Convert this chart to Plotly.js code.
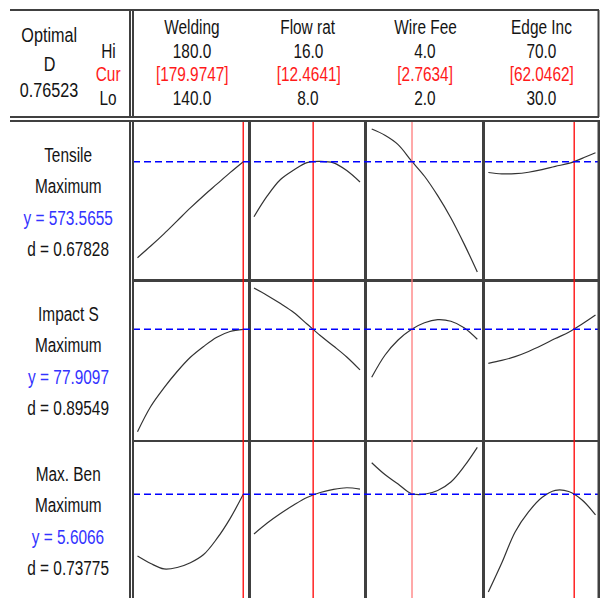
<!DOCTYPE html>
<html><head><meta charset="utf-8">
<script src="https://cdn.plot.ly/plotly-3.0.1.min.js"></script>
<style>html,body{margin:0;padding:0;background:#fff}#chart{width:601px;height:598px}</style>
</head><body><div id="chart"></div>
<script>
// ---- factors ----
const factorNames = ["Welding", "Flow rat", "Wire Fee", "Edge Inc"];
const factorHi = ["180.0", "16.0", "4.0", "70.0"];
const factorCur = ["[179.9747]", "[12.4641]", "[2.7634]", "[62.0462]"];
const factorLo = ["140.0", "8.0", "2.0", "30.0"];
const curValues = [179.9747, 12.4641, 2.7634, 62.0462];

// x samples for each factor
const welding = [140, 145, 150, 155, 160, 165, 170, 175, 180];
const flowRate = [8, 9, 10, 11, 12, 13, 14, 15, 16];
const wireFeed = [2, 2.25, 2.5, 2.75, 3, 3.25, 3.5, 3.75, 4];
const edgeInc = [30, 35, 40, 45, 50, 55, 60, 65, 70];

// ---- responses (relative response level) ----
const responseNames = ["Tensile", "Impact S", "Max. Ben"];
const responseGoal = ["Maximum", "Maximum", "Maximum"];
const responseY = ["y = 573.5655", "y = 77.9097", "y = 5.6066"];
const responseD = ["d = 0.67828", "d = 0.89549", "d = 0.73775"];
const optimalLevel = [76.6, 71.3, 67.85];

const tensileWelding = [9.9, 18.0, 26.5, 35.5, 44.5, 53.0, 61.0, 69.0, 76.6];
const tensileFlow = [38.4, 52.8, 64.2, 70.8, 76.0, 76.8, 75.8, 70.5, 62.5];
const tensileWire = [99.3, 95.0, 88.5, 77.3, 66.5, 53.0, 37.5, 19.5, 0.0];
const tensileEdge = [69.1, 68.2, 68.3, 69.3, 71.1, 73.4, 75.4, 78.9, 82.8];

const impactWelding = [0.2, 17.7, 30.6, 42.0, 51.9, 59.4, 65.8, 69.8, 71.3];
const impactFlow = [100.0, 94.9, 89.2, 83.0, 75.0, 67.0, 59.7, 52.1, 43.1];
const impactWire = [38.0, 53.3, 63.9, 71.2, 75.9, 78.0, 76.9, 72.4, 64.4];
const impactEdge = [47.7, 49.7, 52.3, 55.9, 60.2, 64.9, 69.3, 75.0, 81.25];

const benWelding = [25.0, 19.8, 16.0, 17.0, 20.3, 26.0, 37.0, 51.0, 67.85];
const benFlow = [40.3, 47.9, 54.5, 60.4, 65.6, 69.1, 71.3, 72.4, 71.5];
const benWire = [89.8, 81.6, 75.0, 68.4, 67.9, 70.5, 76.4, 87.2, 100.5];
const benEdge = [0.0, 20.1, 41.7, 55.6, 65.6, 70.6, 69.8, 63.9, 53.5];

const xs = [welding, flowRate, wireFeed, edgeInc];
const ys = [
  [tensileWelding, tensileFlow, tensileWire, tensileEdge],
  [impactWelding, impactFlow, impactWire, impactEdge],
  [benWelding, benFlow, benWire, benEdge]
];

// ---- layout geometry (pixels) ----
const W = 601, H = 598;
const PX = x => x / W, PY = y => 1 - y / H;
const colEdges = [133, 249, 365, 483, 598.5];
const rowEdges = [121, 280, 440, 598];
const xRanges = [[138.3, 182.16], [7.623, 16.377], [1.873, 4.108], [28.01, 71.12]];
const yRanges = [[-5.6, 104.9], [-5.6, 105.6], [-4.2, 105.6]];

const FONT = "Liberation Sans, Arial, sans-serif";
const TXT = "#141414", RED = "#ff1a1a", BLUE = "#3333ff";
const FRAME = "#404040";

const data = [];
const layout = {
  width: W, height: H, margin: {l: 0, r: 0, t: 0, b: 0},
  paper_bgcolor: "#fff", plot_bgcolor: "#fff", showlegend: false,
  shapes: [], annotations: []
};

for (let r = 0; r < 3; r++) {
  for (let c = 0; c < 4; c++) {
    const k = r * 4 + c + 1;
    const xa = k === 1 ? "x" : "x" + k;
    const ya = k === 1 ? "y" : "y" + k;
    data.push({
      type: "scatter", mode: "lines", x: xs[c], y: ys[r][c],
      xaxis: xa, yaxis: ya, hoverinfo: "skip",
      line: {color: "#333", width: 1.2, shape: "spline", smoothing: 1}
    });
    const axCommon = {showticklabels: false, ticks: "", showgrid: false, zeroline: false,
      showline: true, mirror: true, linecolor: FRAME, linewidth: 1.5, fixedrange: true};
    layout["xaxis" + (k === 1 ? "" : k)] = Object.assign({}, axCommon, {
      domain: [PX(colEdges[c]), PX(colEdges[c + 1])], range: xRanges[c], anchor: ya,
      showline: r < 2});
    layout["yaxis" + (k === 1 ? "" : k)] = Object.assign({}, axCommon, {
      domain: [PY(rowEdges[r + 1]), PY(rowEdges[r])], range: yRanges[r], anchor: xa});
    // current setting (red vertical line)
    layout.shapes.push({type: "line", xref: xa, yref: ya + " domain",
      x0: curValues[c], x1: curValues[c], y0: 0, y1: 1,
      line: {color: c === 2 ? "#ff7a7a" : "#ff0000", width: 1.3}});
  }
  // optimal response (blue dashed)
  const ya = r === 0 ? "y" : "y" + (r * 4 + 1);
  layout.shapes.push({type: "line", xref: "paper", yref: ya,
    x0: PX(colEdges[0]), x1: PX(colEdges[4]), y0: optimalLevel[r], y1: optimalLevel[r],
    line: {color: "#0000ff", width: 1.5, dash: "7px,4px"}});
}

// frame lines
function hline(y, x0, x1, w) {
  layout.shapes.push({type: "line", xref: "paper", yref: "paper",
    x0: PX(x0), x1: PX(x1), y0: PY(y), y1: PY(y), line: {color: FRAME, width: w || 2}});
}
function vline(x, y0, y1, w) {
  layout.shapes.push({type: "line", xref: "paper", yref: "paper",
    x0: PX(x), x1: PX(x), y0: PY(y0), y1: PY(y1), line: {color: FRAME, width: w || 2}});
}
hline(10, 10, 599);
hline(117, 10, 599);
hline(121, 10, 599);
vline(130, 10, 117);
vline(133, 10, 117);
vline(598.5, 10, 117);
vline(130, 121, 598);
vline(133, 121, 598);
vline(598.5, 121, 598);

function txt(s, x, baseline, color, size) {
  const fs = size || 20;
  layout.annotations.push({text: s, xref: "paper", yref: "paper",
    x: PX(x), y: PY(baseline - 0.34 * fs), xanchor: "center", yanchor: "middle",
    showarrow: false, font: {family: FONT, size: fs, color: color || TXT}});
}

// header left
txt("Optimal", 49, 41.5, TXT, 21);
txt("D", 49, 71, TXT, 21);
txt("0.76523", 49, 97, TXT, 21);
txt("Hi", 108, 57.3);
txt("Cur", 108, 81, RED);
txt("Lo", 108, 105);

// header factors
for (let c = 0; c < 4; c++) {
  const cx = (colEdges[c] + colEdges[c + 1]) / 2 + 1;
  txt(factorNames[c], cx, 33.5);
  txt(factorHi[c], cx, 57.3);
  txt(factorCur[c], cx, 81, RED);
  txt(factorLo[c], cx, 105);
}

// row labels
const rowOffsets = [40.5, 72, 103.5, 134.5];
for (let r = 0; r < 3; r++) {
  const top = rowEdges[r];
  txt(responseNames[r], 68, top + rowOffsets[0]);
  txt(responseGoal[r], 68, top + rowOffsets[1]);
  txt(responseY[r], 68, top + rowOffsets[2], BLUE);
  txt(responseD[r], 68, top + rowOffsets[3]);
}

Plotly.newPlot("chart", data, layout, {staticPlot: true, displayModeBar: false}).then(function (gd) {
  // condense text horizontally to match the narrow typeface of the original
  gd.querySelectorAll("text.annotation-text").forEach(function (t) {
    const b = t.getBBox();
    const cx = b.x + b.width / 2;
    t.setAttribute("transform", "translate(" + cx + ",0) scale(0.77,1) translate(" + (-cx) + ",0)");
  });
});
</script></body></html>
